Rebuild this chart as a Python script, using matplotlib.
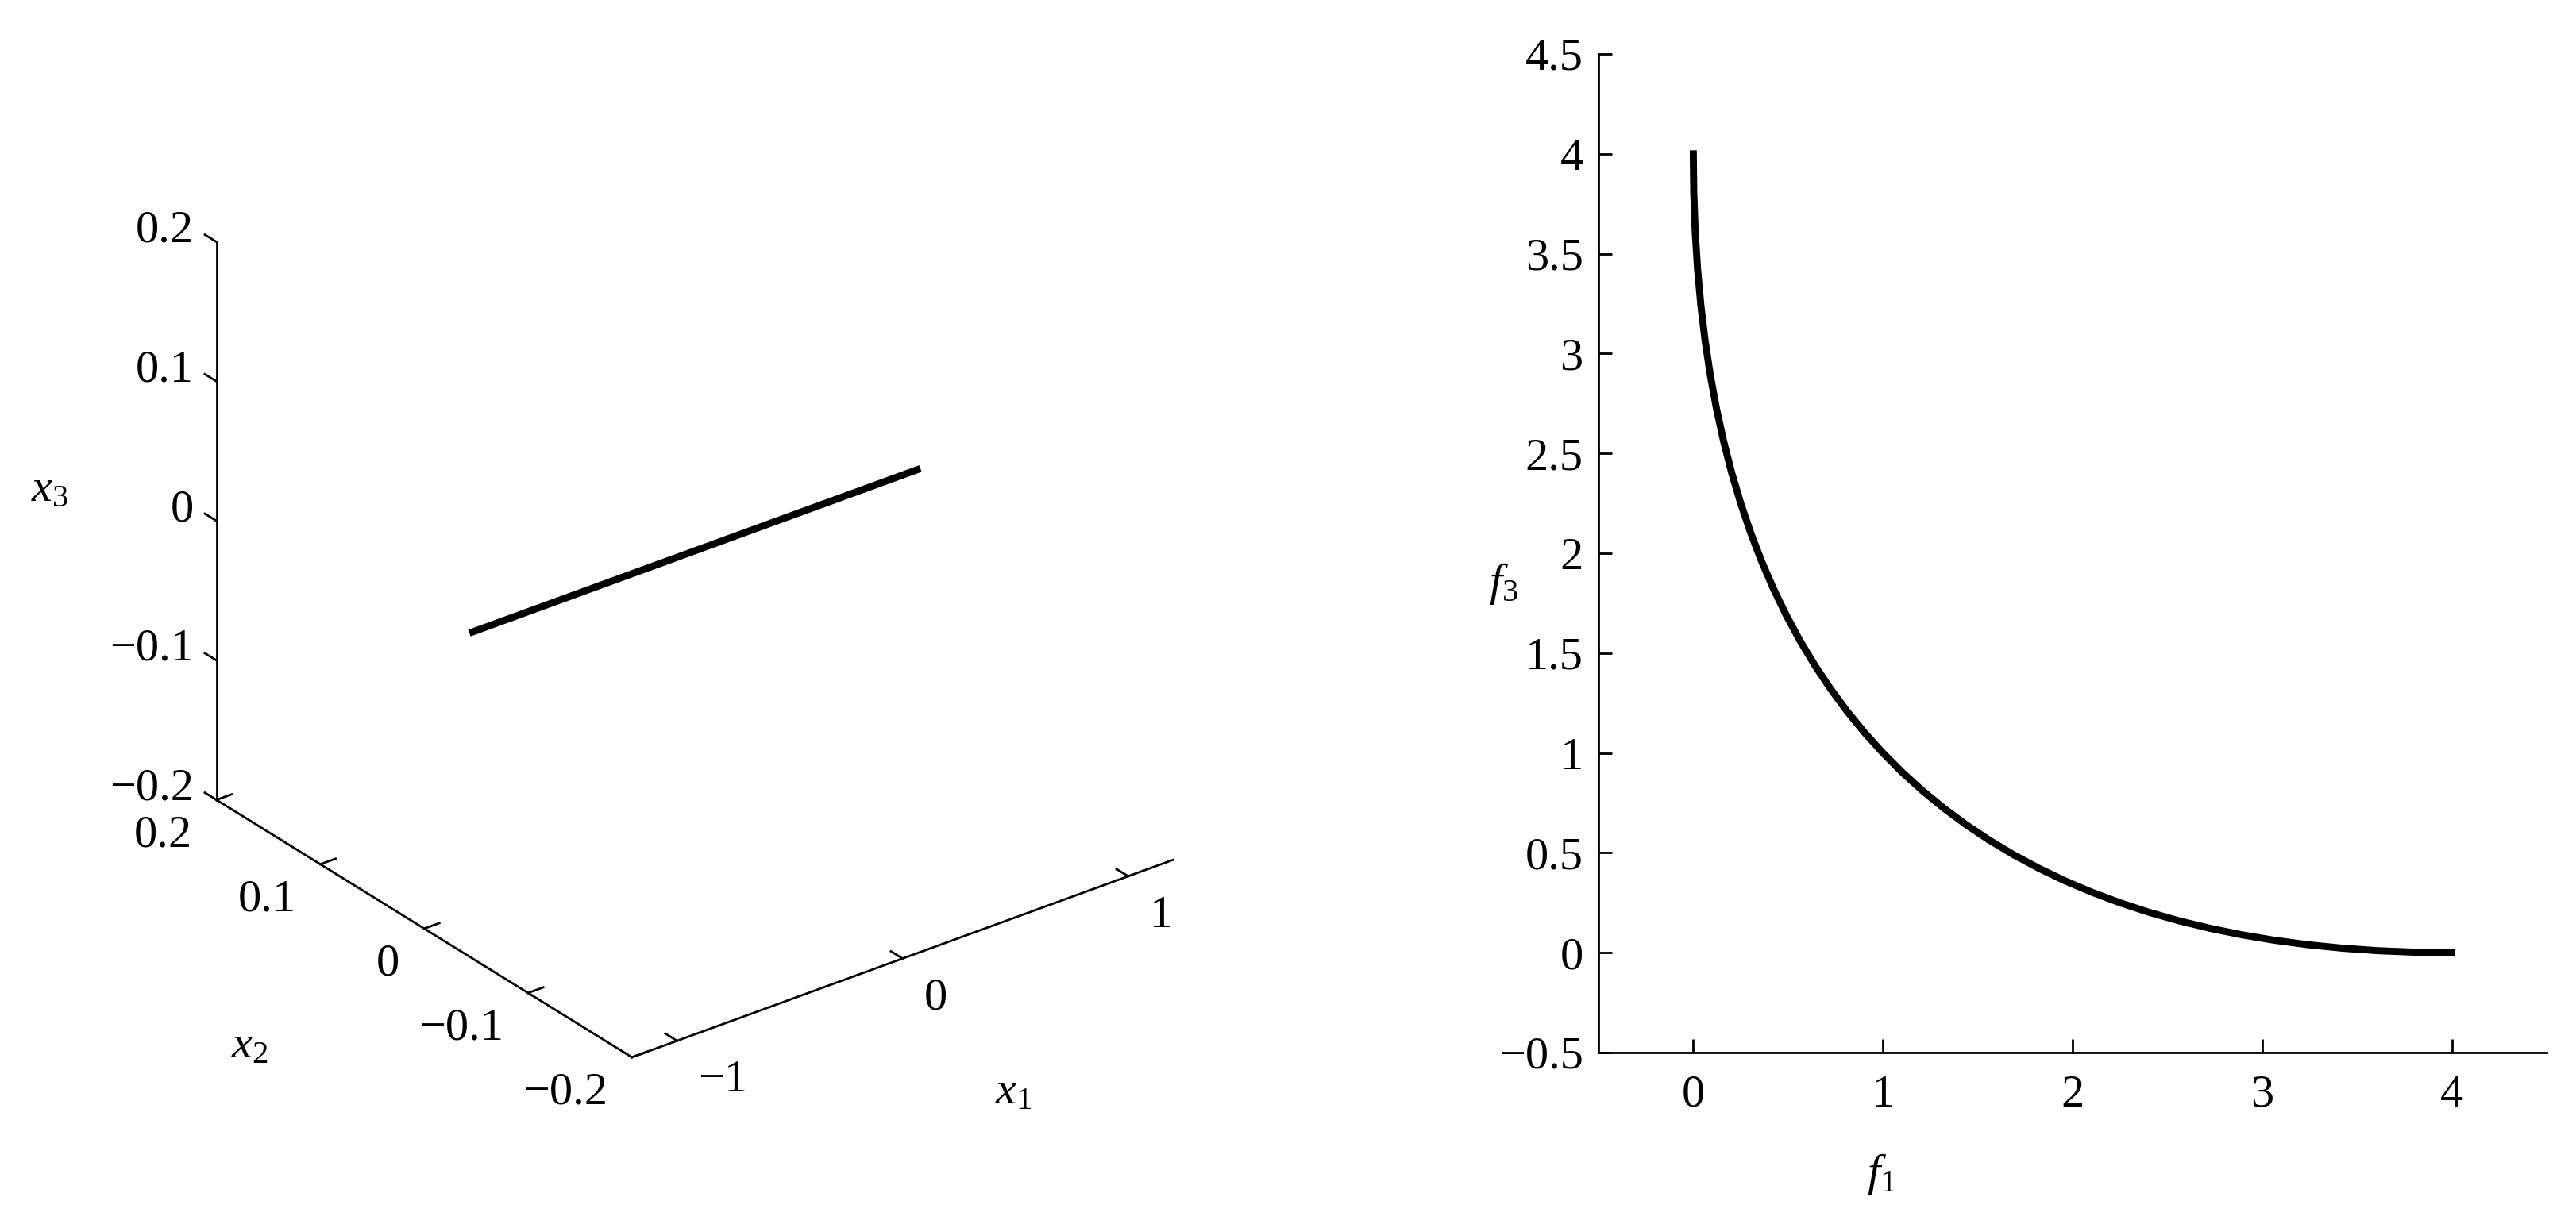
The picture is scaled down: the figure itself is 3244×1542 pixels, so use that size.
import numpy as np
import matplotlib
matplotlib.use('Agg')
import matplotlib.pyplot as plt
from matplotlib.ticker import FuncFormatter, FixedLocator, NullFormatter

plt.rcParams['font.family'] = ['Liberation Serif', 'DejaVu Serif']
plt.rcParams['mathtext.fontset'] = 'custom'
plt.rcParams['mathtext.it'] = 'Liberation Serif:italic'
plt.rcParams['mathtext.rm'] = 'Liberation Serif'
plt.rcParams['axes.unicode_minus'] = True

# ---------------- data ----------------
# decision space: Pareto set (segment along x1)
ps_x1 = [-1.0, 1.0]
ps_x2 = [0.0, 0.0]
ps_x3 = [0.0, 0.0]

# objective space: Pareto front f3 vs f1
pf_f1 = [0.0, 0.0025, 0.01, 0.0225, 0.04, 0.0625, 0.09, 0.1225, 0.16, 0.2025,
         0.25, 0.3025, 0.36, 0.4225, 0.49, 0.5625, 0.64, 0.7225, 0.81, 0.9025,
         1.0, 1.1025, 1.21, 1.3225, 1.44, 1.5625, 1.69, 1.8225, 1.96, 2.1025,
         2.25, 2.4025, 2.56, 2.7225, 2.89, 3.0625, 3.24, 3.4225, 3.61, 3.8025, 4.0]
pf_f3 = [4.0, 3.8025, 3.61, 3.4225, 3.24, 3.0625, 2.89, 2.7225, 2.56, 2.4025,
         2.25, 2.1025, 1.96, 1.8225, 1.69, 1.5625, 1.44, 1.3225, 1.21, 1.1025,
         1.0, 0.9025, 0.81, 0.7225, 0.64, 0.5625, 0.49, 0.4225, 0.36, 0.3025,
         0.25, 0.2025, 0.16, 0.1225, 0.09, 0.0625, 0.04, 0.0225, 0.01, 0.0025, 0.0]

x1_ticks = [-1, 0, 1]
x2_ticks = [-0.2, -0.1, 0, 0.1, 0.2]
x3_ticks = [-0.2, -0.1, 0, 0.1, 0.2]
f1_ticks = [0, 1, 2, 3, 4]
f3_ticks = [-0.5, 0, 0.5, 1, 1.5, 2, 2.5, 3, 3.5, 4, 4.5]

def fmt(v, pos=None):
    s = '%g' % v
    return s.replace('-', '\u2212')

FS = 21
W, H = 3244, 1542

fig = plt.figure(figsize=(16.22, 7.71), dpi=200)

# ---------------- left: 3D ----------------
try:
    from mpl_toolkits.mplot3d import axis3d
    axis3d.Axis._AXINFO['z']['tickdir'] = 1
except Exception:
    pass

ax3 = fig.add_axes([150 / W, 123 / H, 1412 / W, 1412 / H], projection='3d', proj_type='ortho')
ax3.plot(ps_x1, ps_x2, ps_x3, color='k', lw=3.2, solid_capstyle='butt')
X1LIM, X2LIM, X3LIM = (-1.2, 1.2), (-0.2, 0.2), (-0.2, 0.2)
ax3.set_xlim(*X1LIM)
ax3.set_ylim(*X2LIM)
ax3.set_zlim(*X3LIM)
ax3.view_init(elev=28.4, azim=-127.5)
ax3.set_box_aspect((1, 1, 0.93))
ax3.grid(False)
for axis, ticks in ((ax3.xaxis, x1_ticks), (ax3.yaxis, x2_ticks), (ax3.zaxis, x3_ticks)):
    axis.set_pane_color((1, 1, 1, 0))
    axis.pane.set_edgecolor((1, 1, 1, 0))
    axis.set_major_locator(FixedLocator(ticks))
    axis.set_major_formatter(NullFormatter())
    axis.line.set_linewidth(1.0)
    axis.line.set_color('k')
    axis._axinfo['tick']['inward_factor'] = 0.0
    axis._axinfo['tick']['outward_factor'] = 0.35
    axis._axinfo['tick']['linewidth'] = {True: 1.0, False: 0.5}
    axis._axinfo['tick']['color'] = 'k'

fig.text(63 / W, 1 - 617 / H, '$x_3$', fontsize=FS, ha='center', va='center')
fig.text(314 / W, 1 - 1318 / H, '$x_2$', fontsize=FS, ha='center', va='center')
fig.text(1276 / W, 1 - 1376 / H, '$x_1$', fontsize=FS, ha='center', va='center')

# ---------------- right: 2D ----------------
ax = fig.add_axes([2013 / W, 1 - 1326 / H, (3207 - 2013) / W, (1326 - 68) / H])
ax.plot(pf_f1, pf_f3, color='k', lw=3.2)
ax.set_xlim(-0.5, 4.5)
ax.set_ylim(-0.5, 4.5)
ax.xaxis.set_major_locator(FixedLocator(f1_ticks))
ax.yaxis.set_major_locator(FixedLocator(f3_ticks))
ax.xaxis.set_major_formatter(FuncFormatter(fmt))
ax.yaxis.set_major_formatter(FuncFormatter(fmt))
for side in ('top', 'right'):
    ax.spines[side].set_visible(False)
for side in ('left', 'bottom'):
    ax.spines[side].set_linewidth(1.0)
ax.tick_params(direction='in', length=6, width=1.0, labelsize=FS)
ax.tick_params(axis='y', pad=7)
ax.tick_params(axis='x', pad=10)
fig.text(1893 / W, 1 - 735 / H, '$f_3$', fontsize=FS, ha='center', va='center')
fig.text(2369 / W, 1 - 1479 / H, '$f_1$', fontsize=FS, ha='center', va='center')

# ---- 3D tick labels: project tick positions with the axes' own projection ----
fig.canvas.draw()
M = ax3.M
fw, fh = fig.bbox.width, fig.bbox.height

def place(x, y, z, s, dx, dy, ha):
    v = M @ np.array([x, y, z, 1.0])
    px, py = v[0] / v[3], v[1] / v[3]
    X, Y = ax3.transData.transform((px, py))
    fig.text((X + dx) / fw, (Y + dy) / fh, s, fontsize=FS, ha=ha, va='center')

for v in x3_ticks:
    place(X1LIM[0], X2LIM[1], v, fmt(v), -29, 14, 'right')
for v in x2_ticks:
    place(X1LIM[0], v, X3LIM[0], fmt(v), -31, -45, 'right')
for v in x1_ticks:
    place(v, X2LIM[0], X3LIM[0], fmt(v), 27, -50, 'left')

fig.savefig('out.png', dpi=200)
